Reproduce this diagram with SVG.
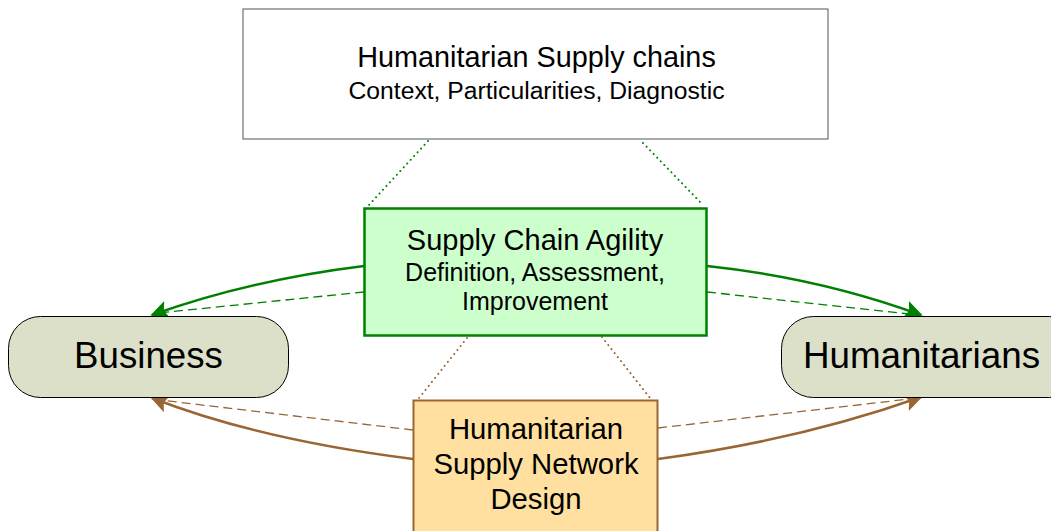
<svg xmlns="http://www.w3.org/2000/svg" width="1051" height="531" viewBox="0 0 1051 531">
<defs>
<style>
text{font-family:"Liberation Sans",Arial,sans-serif;fill:#000;text-anchor:middle}
.g{stroke:#008000;fill:none}
.b{stroke:#996633;fill:none}
.solid{stroke-width:2.5}
.dash{stroke-width:1.3;stroke-dasharray:9 5}
.dot{stroke-width:2;stroke-dasharray:0.1 5;stroke-linecap:round}
.ell{fill:#dde0c9;stroke:#000;stroke-width:1}
</style>
<marker id="agL" viewBox="0 0 10 10" refX="9" refY="5" markerWidth="18" markerHeight="18" markerUnits="userSpaceOnUse" orient="auto"><path d="M0,0 L10,5 L0,10 L2,5 Z" fill="#008000"/></marker>
<marker id="abL" viewBox="0 0 10 10" refX="9" refY="5" markerWidth="18" markerHeight="18" markerUnits="userSpaceOnUse" orient="auto"><path d="M0,0 L10,5 L0,10 L2,5 Z" fill="#996633"/></marker>
</defs>
<g id="connectors">
<line class="g dot" x1="428" y1="141" x2="368" y2="206"/>
<line class="g dot" x1="643" y1="143" x2="703" y2="205"/>
<line class="b dot" x1="467" y1="338" x2="419" y2="398"/>
<line class="b dot" x1="602" y1="337" x2="650" y2="398"/>
<path class="g solid" d="M364,266 Q250,280 152,315" marker-end="url(#agL)"/>
<path class="g dash" d="M364,292 L158,313"/>
<path class="g solid" d="M707,266 Q820,278 921,315" marker-end="url(#agL)"/>
<path class="g dash" d="M707,292 L918,315"/>
<path class="b solid" d="M413,459 Q260,440 152,398" marker-end="url(#abL)"/>
<path class="b dash" d="M413,430 L160,400"/>
<path class="b solid" d="M658,459 Q800,440 921,397" marker-end="url(#abL)"/>
<path class="b dash" d="M658,428 L918,398"/>
</g>
<g id="top">
<rect x="243" y="9" width="585" height="130" fill="#fff" stroke="#555" stroke-width="1"/>
<text x="536.5" y="67" font-size="28.8">Humanitarian Supply chains</text>
<text x="536.5" y="99" font-size="24.7">Context, Particularities, Diagnostic</text>
</g>
<g id="agility">
<rect x="364.5" y="208.5" width="342" height="127" fill="#ccffcc" stroke="#008000" stroke-width="2.5"/>
<text x="535" y="250" font-size="29">Supply Chain Agility</text>
<text x="535" y="281" font-size="25">Definition, Assessment,</text>
<text x="535" y="310" font-size="25">Improvement</text>
</g>
<g id="network">
<rect x="413.5" y="400.5" width="244" height="140" fill="#ffe0a0" stroke="#996633" stroke-width="2"/>
<text x="536" y="439" font-size="29.3">Humanitarian</text>
<text x="536" y="474" font-size="29.3">Supply Network</text>
<text x="536" y="509" font-size="29.3">Design</text>
</g>
<g id="business">
<rect class="ell" x="8.5" y="316.5" width="280" height="81" rx="32"/>
<text x="148.5" y="368" font-size="36.7">Business</text>
</g>
<g id="humanitarians">
<rect class="ell" x="781.5" y="316.5" width="300" height="81" rx="32"/>
<text x="921.5" y="368" font-size="36.8">Humanitarians</text>
</g>
</svg>
